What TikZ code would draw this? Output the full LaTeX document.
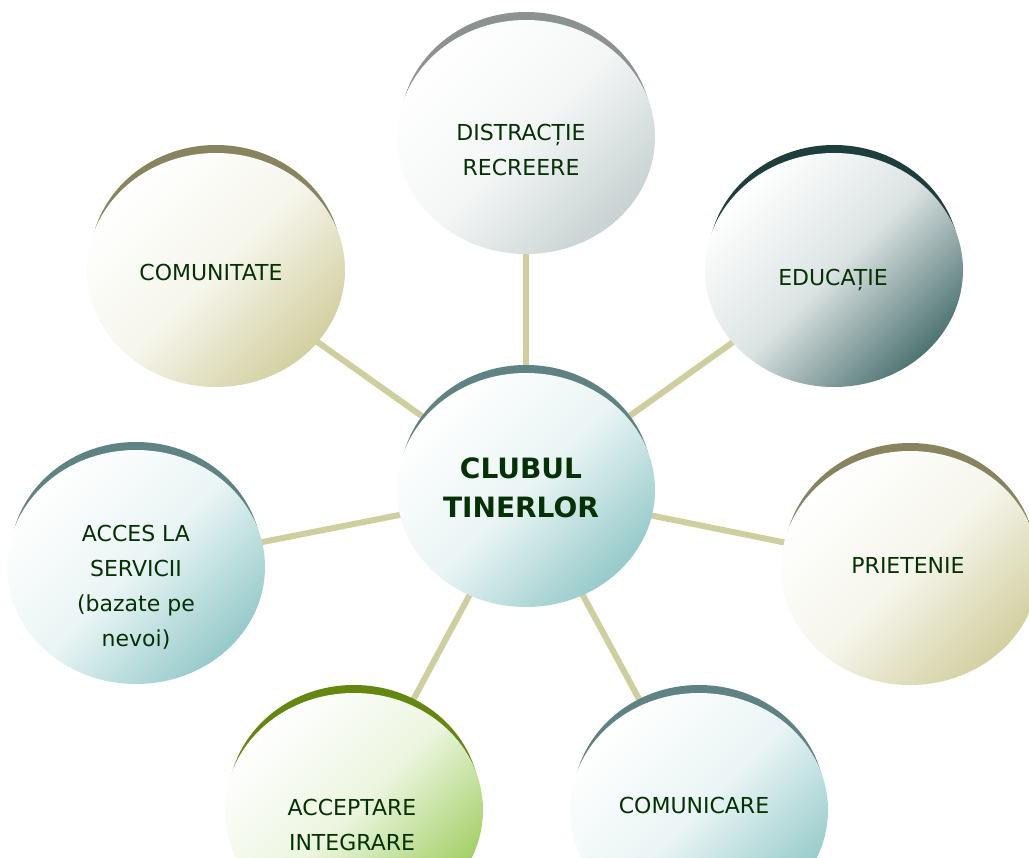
\documentclass[tikz,border=0pt]{standalone}
\usepackage{fontspec}
\setmainfont{DejaVu Sans}
\usetikzlibrary{shapes.geometric,backgrounds}
\definecolor{txt}{RGB}{5,50,5}
\definecolor{linkcol}{RGB}{206,206,158}
\definecolor{tealC}{RGB}{150,202,202}
\definecolor{tealR}{RGB}{95,130,130}
\definecolor{greyC}{RGB}{200,210,210}
\definecolor{greyR}{RGB}{140,145,145}
\definecolor{darkC}{RGB}{78,116,114}
\definecolor{darkR}{RGB}{30,62,62}
\definecolor{khakiC}{RGB}{210,208,160}
\definecolor{khakiR}{RGB}{135,132,95}
\definecolor{greenC}{RGB}{160,206,98}
\definecolor{greenR}{RGB}{100,135,15}
\begin{document}
\begin{tikzpicture}[x=1pt,y=-1pt,
  bubble/.style={ellipse, minimum width=258pt, minimum height=234pt, inner sep=0pt,
    top color=white, bottom color=#1, middle color=white!80!#1, shading angle=45},
  rimstyle/.style={fill=#1},
  lab/.style={text=txt, font=\fontsize{22}{35}\selectfont, align=center},
  big/.style={text=txt, font=\bfseries\fontsize{28}{39}\selectfont, align=center},
  conn/.style={draw=linkcol, line width=6pt}]
\useasboundingbox (0,0) rectangle (1029,858);
\clip (0,0) rectangle (1029,858);
% rims
\fill[rimstyle=greyR]  (526,129) ellipse [x radius=126pt, y radius=117pt];
\fill[rimstyle=tealR]  (526,482) ellipse [x radius=126pt, y radius=117pt];
\fill[rimstyle=darkR]  (834,262) ellipse [x radius=126pt, y radius=117pt];
\fill[rimstyle=khakiR] (216,262) ellipse [x radius=126pt, y radius=117pt];
\fill[rimstyle=khakiR] (910,560) ellipse [x radius=126pt, y radius=117pt];
\fill[rimstyle=tealR]  (136,559) ellipse [x radius=126pt, y radius=117pt];
\fill[rimstyle=greenR] (354,802) ellipse [x radius=126pt, y radius=117pt];
\fill[rimstyle=tealR]  (699,802) ellipse [x radius=126pt, y radius=117pt];
% bubbles
\node[bubble=tealC]  (c)  at (526,490) {};
\node[bubble=greyC]  (d)  at (526,137) {};
\node[bubble=darkC]  (e)  at (834,270) {};
\node[bubble=khakiC] (cm) at (216,270) {};
\node[bubble=khakiC] (p)  at (910,568) {};
\node[bubble=tealC]  (a)  at (136,567) {};
\node[bubble=greenC] (ac) at (354,810) {};
\node[bubble=tealC]  (co) at (699,810) {};
% texts
\node[big] (tc)  at (521,488) {CLUBUL\\TINERLOR};
\node[lab] (td)  at (521,150) {DISTRACȚIE\\RECREERE};
\node[lab] (te)  at (833,280) {EDUCAȚIE};
\node[lab] (tcm) at (211,272) {COMUNITATE};
\node[lab] (tp)  at (908,565) {PRIETENIE};
\node[lab] (ta)  at (136,587) {ACCES LA\\SERVICII\\(bazate pe\\nevoi)};
\node[lab] (tac) at (352,825) {ACCEPTARE\\INTEGRARE};
\node[lab] (tco) at (694,805) {COMUNICARE};
% connectors
\begin{pgfonlayer}{background}
\fill[white] (0,0) rectangle (1029,858);
\draw[conn] (c.center) -- (d.center);
\draw[conn] (c.center) -- (e.center);
\draw[conn] (c.center) -- (cm.center);
\draw[conn] (c.center) -- (p.center);
\draw[conn] (c.center) -- (a.center);
\draw[conn] (c.center) -- (ac.center);
\draw[conn] (c.center) -- (co.center);
\end{pgfonlayer}
\end{tikzpicture}
\end{document}
